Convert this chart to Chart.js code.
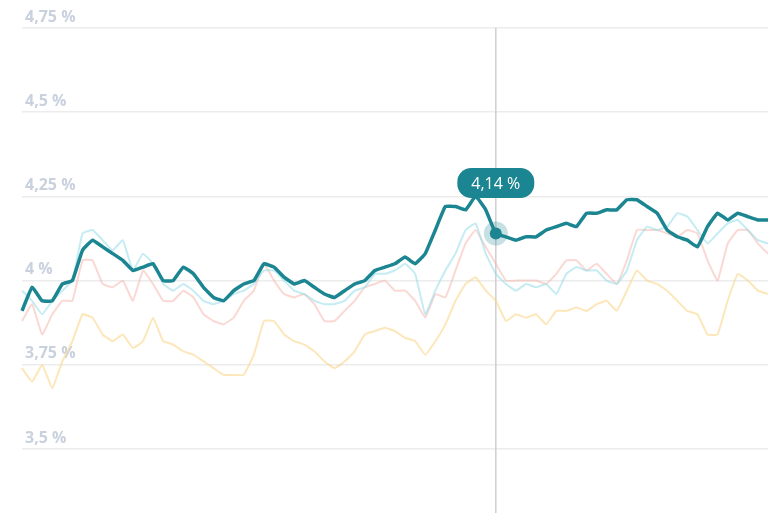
<!DOCTYPE html>
<html><head><meta charset="utf-8">
<script src="https://cdn.jsdelivr.net/npm/chart.js@4"></script>
<style>html,body{margin:0;padding:0;background:#fff}#w{width:768px;height:513px}</style>
</head><body><div id="w"><canvas id="c"></canvas></div>
<script>
const teal=[3.91,3.98,3.94,3.94,3.99,4.00,4.09,4.12,4.10,4.08,4.06,4.03,4.04,4.05,4.00,4.00,4.04,4.02,3.98,3.95,3.94,3.97,3.99,4.00,4.05,4.04,4.01,3.99,4.00,3.98,3.96,3.95,3.97,3.99,4.00,4.03,4.04,4.05,4.07,4.05,4.08,4.15,4.22,4.22,4.21,4.25,4.21,4.14,4.13,4.12,4.13,4.13,4.15,4.16,4.17,4.16,4.20,4.20,4.21,4.21,4.24,4.24,4.22,4.20,4.15,4.13,4.12,4.10,4.16,4.20,4.18,4.20,4.19,4.18,4.18];
const cyan=[3.97,3.94,3.90,3.94,3.97,4.00,4.14,4.15,4.12,4.09,4.12,4.03,4.08,4.05,3.99,3.97,3.99,3.97,3.94,3.93,3.94,3.96,3.97,3.99,4.03,4.03,4.00,3.97,3.96,3.94,3.93,3.93,3.94,3.97,3.98,4.02,4.02,4.03,4.05,4.02,3.90,3.97,4.03,4.08,4.15,4.17,4.08,4.02,3.99,3.97,3.99,3.98,3.99,3.96,4.02,4.04,4.03,4.03,4.00,3.99,4.03,4.12,4.16,4.15,4.16,4.20,4.19,4.15,4.11,4.14,4.17,4.18,4.15,4.12,4.11];
const pink=[3.88,3.93,3.84,3.90,3.94,3.94,4.06,4.06,3.99,3.98,4.00,3.94,4.03,3.99,3.94,3.94,3.97,3.95,3.90,3.88,3.87,3.89,3.94,3.97,4.05,4.00,3.96,3.95,3.96,3.93,3.88,3.88,3.91,3.94,3.98,3.99,4.00,3.97,3.97,3.94,3.89,3.96,3.95,4.03,4.11,4.15,4.10,4.05,4.00,4.00,4.00,4.00,3.99,4.02,4.06,4.06,4.03,4.05,4.02,3.99,4.06,4.15,4.15,4.15,4.14,4.13,4.15,4.14,4.06,4.00,4.11,4.15,4.15,4.11,4.08];
const yellow=[3.74,3.70,3.75,3.68,3.76,3.82,3.90,3.89,3.84,3.82,3.84,3.80,3.82,3.89,3.82,3.81,3.79,3.78,3.76,3.74,3.72,3.72,3.72,3.78,3.88,3.88,3.84,3.82,3.81,3.79,3.76,3.74,3.76,3.79,3.84,3.85,3.86,3.85,3.83,3.82,3.78,3.82,3.87,3.94,3.99,4.01,3.97,3.94,3.88,3.90,3.89,3.90,3.87,3.91,3.91,3.92,3.91,3.93,3.94,3.91,3.97,4.03,4.00,3.99,3.97,3.94,3.91,3.90,3.84,3.84,3.94,4.02,4.00,3.97,3.96];
const yTicks=[3.5,3.75,4,4.25,4.5,4.75];
const activeIndex=47;
const labels=teal.map((_,i)=>i);
const fmt=v=>v.toLocaleString('de-DE',{maximumFractionDigits:2})+' %';
const ds=(d,c,w)=>({data:d,borderColor:c,borderWidth:w,pointRadius:0,tension:0.1,fill:false});
const deco={id:'deco',
 beforeDatasetsDraw(ch){const {ctx,chartArea:a,scales:{y}}=ch;ctx.save();ctx.fillStyle='#c9d1de';ctx.font='bold 16px "Open Sans"';ctx.textBaseline='bottom';
  yTicks.forEach(t=>{ctx.fillText(fmt(t),25,y.getPixelForValue(t)-3)});
  const p=ch.getDatasetMeta(0).data[activeIndex];ctx.strokeStyle='#cfcfcf';ctx.lineWidth=1.5;ctx.beginPath();ctx.moveTo(p.x,y.getPixelForValue(4.75));ctx.lineTo(p.x,a.bottom);ctx.stroke();ctx.restore();},
 afterDatasetsDraw(ch){const {ctx}=ch;const p=ch.getDatasetMeta(0).data[activeIndex];ctx.save();
  ctx.fillStyle='rgba(27,133,145,0.25)';ctx.beginPath();ctx.arc(p.x,p.y,12,0,Math.PI*2);ctx.fill();
  ctx.fillStyle='#1b8591';ctx.beginPath();ctx.arc(p.x,p.y,6,0,Math.PI*2);ctx.fill();
  const txt=fmt(teal[activeIndex]);ctx.font='16px "Open Sans"';const w=ctx.measureText(txt).width+28,h=30;const x=p.x-w/2,yy=168;
  ctx.beginPath();ctx.roundRect(x,yy,w,h,14);ctx.fill();
  ctx.fillStyle='#fff';ctx.textAlign='center';ctx.textBaseline='middle';ctx.fillText(txt,x+w/2,yy+h/2+1);ctx.restore();}};
new Chart(document.getElementById('c'),{type:'line',
 data:{labels,datasets:[ds(teal,'#1b8591',3.5),ds(cyan,'rgba(150,220,232,0.55)',2),ds(pink,'rgba(245,180,170,0.5)',2),ds(yellow,'rgba(250,215,140,0.6)',2)]},
 options:{animation:false,responsive:true,maintainAspectRatio:false,layout:{padding:{left:22,right:0,top:0,bottom:0}},
  plugins:{legend:{display:false},tooltip:{enabled:false}},
  scales:{x:{display:false,offset:false},
   y:{min:3.31,max:4.833,afterBuildTicks:s=>{s.ticks=yTicks.map(v=>({value:v}))},ticks:{display:false},border:{display:false},grid:{color:'#ececec',lineWidth:1.5,drawTicks:false}}}},
 plugins:[deco]});
</script></body></html>
